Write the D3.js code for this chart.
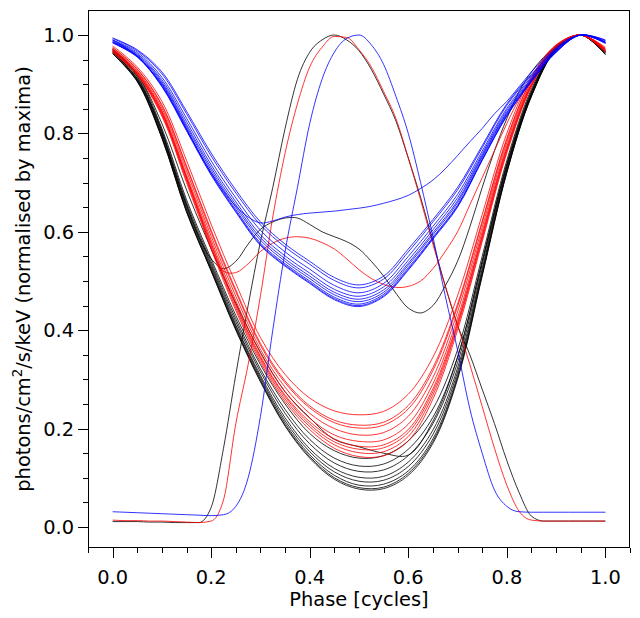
<!DOCTYPE html>
<html>
<head>
<meta charset="utf-8">
<script src="https://cdn.jsdelivr.net/npm/d3@7"></script>
<style>
  html, body { margin: 0; padding: 0; background: #fff; }
  svg { display: block; }
  text { font-family: "DejaVu Sans", sans-serif; fill: #000; }
</style>
</head>
<body>
<svg id="chart" width="640" height="618"></svg>
<script>
// ---------------- data ----------------
const PHASE = [0, 0.05, 0.1, 0.15, 0.2, 0.25, 0.3, 0.35, 0.4, 0.45, 0.5,
               0.55, 0.6, 0.65, 0.7, 0.75, 0.8, 0.85, 0.9, 0.95, 1.0];
const PHASE_FINE = [0, 0.025, 0.05, 0.075, 0.1, 0.125, 0.15, 0.175, 0.2, 0.225,
                    0.25, 0.275, 0.3, 0.325, 0.35, 0.375, 0.4, 0.425, 0.45, 0.475,
                    0.5, 0.525, 0.55, 0.575, 0.6, 0.625, 0.65, 0.675, 0.7, 0.725,
                    0.75, 0.775, 0.8, 0.825, 0.85, 0.875, 0.9, 0.925, 0.95, 0.975, 1.0];

const BLACK_DIPS = [
  [0.962, 0.905, 0.79, 0.64, 0.52, 0.40, 0.295, 0.205, 0.14, 0.097, 0.077, 0.078, 0.105, 0.17, 0.30, 0.51, 0.72, 0.875, 0.97, 1.0, 0.96],
  [0.962, 0.906, 0.791, 0.641, 0.521, 0.402, 0.297, 0.207, 0.143, 0.100, 0.080, 0.081, 0.109, 0.174, 0.303, 0.512, 0.721, 0.876, 0.97, 1.0, 0.961],
  [0.963, 0.907, 0.793, 0.643, 0.523, 0.404, 0.30, 0.211, 0.147, 0.105, 0.085, 0.087, 0.114, 0.179, 0.308, 0.515, 0.723, 0.877, 0.971, 1.0, 0.961],
  [0.965, 0.909, 0.795, 0.646, 0.526, 0.408, 0.304, 0.216, 0.153, 0.112, 0.093, 0.095, 0.123, 0.188, 0.315, 0.52, 0.726, 0.879, 0.971, 1.0, 0.963],
  [0.966, 0.911, 0.798, 0.65, 0.53, 0.411, 0.308, 0.222, 0.159, 0.119, 0.101, 0.103, 0.132, 0.197, 0.323, 0.525, 0.73, 0.881, 0.972, 1.0, 0.964],
  [0.968, 0.914, 0.801, 0.654, 0.534, 0.417, 0.315, 0.231, 0.169, 0.13, 0.113, 0.116, 0.145, 0.21, 0.334, 0.533, 0.734, 0.884, 0.973, 1.0, 0.966],
  [0.97, 0.916, 0.805, 0.659, 0.539, 0.423, 0.321, 0.239, 0.178, 0.14, 0.124, 0.128, 0.158, 0.223, 0.345, 0.54, 0.739, 0.886, 0.974, 1.0, 0.968],
  [0.972, 0.92, 0.81, 0.665, 0.545, 0.43, 0.33, 0.25, 0.19, 0.155, 0.14, 0.145, 0.175, 0.24, 0.36, 0.55, 0.745, 0.89, 0.975, 1.0, 0.97],
  [0.97, 0.92, 0.82, 0.685, 0.565, 0.455, 0.355, 0.275, 0.222, 0.178, 0.163, 0.150, 0.146, 0.215, 0.345, 0.54, 0.735, 0.88, 0.972, 1.0, 0.968]
];
const RED_DIPS = [
  [0.965, 0.918, 0.835, 0.70, 0.565, 0.44, 0.335, 0.255, 0.198, 0.16, 0.143, 0.145, 0.175, 0.26, 0.40, 0.58, 0.76, 0.895, 0.975, 1.0, 0.965],
  [0.966, 0.92, 0.838, 0.704, 0.57, 0.445, 0.34, 0.26, 0.204, 0.167, 0.151, 0.153, 0.184, 0.268, 0.407, 0.585, 0.764, 0.897, 0.975, 1.0, 0.966],
  [0.967, 0.921, 0.84, 0.708, 0.574, 0.45, 0.344, 0.265, 0.209, 0.173, 0.158, 0.161, 0.192, 0.275, 0.412, 0.59, 0.767, 0.898, 0.976, 1.0, 0.967],
  [0.968, 0.922, 0.842, 0.711, 0.577, 0.453, 0.347, 0.268, 0.214, 0.179, 0.164, 0.167, 0.198, 0.281, 0.417, 0.593, 0.77, 0.9, 0.976, 1.0, 0.967],
  [0.97, 0.924, 0.846, 0.716, 0.583, 0.46, 0.353, 0.275, 0.221, 0.187, 0.174, 0.177, 0.209, 0.291, 0.425, 0.6, 0.774, 0.902, 0.977, 1.0, 0.969],
  [0.972, 0.927, 0.851, 0.724, 0.591, 0.469, 0.361, 0.284, 0.231, 0.2, 0.187, 0.192, 0.225, 0.304, 0.437, 0.609, 0.781, 0.905, 0.978, 1.0, 0.97],
  [0.974, 0.93, 0.856, 0.731, 0.599, 0.478, 0.369, 0.293, 0.242, 0.212, 0.201, 0.207, 0.24, 0.318, 0.448, 0.618, 0.787, 0.909, 0.978, 1.0, 0.972],
  [0.975, 0.931, 0.858, 0.734, 0.603, 0.482, 0.373, 0.297, 0.246, 0.217, 0.207, 0.213, 0.247, 0.324, 0.453, 0.622, 0.79, 0.91, 0.979, 1.0, 0.973],
  [0.978, 0.935, 0.865, 0.745, 0.615, 0.495, 0.385, 0.31, 0.262, 0.236, 0.228, 0.235, 0.27, 0.345, 0.47, 0.635, 0.80, 0.915, 0.98, 1.0, 0.975]
];
const BLUE_DIPS = [
  [0.984, 0.955, 0.895, 0.805, 0.715, 0.64, 0.572, 0.53, 0.495, 0.462, 0.448, 0.468, 0.522, 0.585, 0.65, 0.745, 0.835, 0.905, 0.965, 1.0, 0.983],
  [0.984, 0.956, 0.896, 0.807, 0.717, 0.642, 0.574, 0.532, 0.497, 0.464, 0.45, 0.47, 0.524, 0.587, 0.652, 0.746, 0.836, 0.906, 0.965, 1.0, 0.983],
  [0.985, 0.957, 0.898, 0.809, 0.72, 0.645, 0.577, 0.535, 0.5, 0.467, 0.453, 0.473, 0.527, 0.589, 0.654, 0.748, 0.838, 0.907, 0.966, 1.0, 0.984],
  [0.986, 0.958, 0.902, 0.814, 0.725, 0.65, 0.583, 0.54, 0.505, 0.472, 0.458, 0.477, 0.532, 0.594, 0.659, 0.752, 0.841, 0.908, 0.967, 1.0, 0.985],
  [0.987, 0.96, 0.905, 0.818, 0.73, 0.655, 0.588, 0.545, 0.51, 0.477, 0.463, 0.482, 0.536, 0.598, 0.663, 0.755, 0.843, 0.91, 0.967, 1.0, 0.985],
  [0.989, 0.962, 0.909, 0.824, 0.736, 0.661, 0.594, 0.551, 0.516, 0.483, 0.469, 0.488, 0.542, 0.604, 0.669, 0.759, 0.847, 0.912, 0.968, 1.0, 0.986],
  [0.99, 0.965, 0.914, 0.831, 0.744, 0.669, 0.603, 0.559, 0.524, 0.491, 0.476, 0.495, 0.55, 0.611, 0.676, 0.764, 0.851, 0.915, 0.97, 1.0, 0.988],
  [0.993, 0.968, 0.921, 0.84, 0.754, 0.679, 0.614, 0.569, 0.534, 0.501, 0.486, 0.504, 0.559, 0.62, 0.685, 0.771, 0.857, 0.918, 0.971, 1.0, 0.989],
  [0.994, 0.97, 0.925, 0.845, 0.76, 0.685, 0.62, 0.575, 0.54, 0.507, 0.492, 0.51, 0.565, 0.625, 0.69, 0.775, 0.86, 0.92, 0.972, 1.0, 0.99]
];

const BLACK_PULSE = [0.011, 0.011, 0.011, 0.010, 0.010, 0.009, 0.009, 0.009, 0.04, 0.16,
  0.31, 0.45, 0.58, 0.69, 0.81, 0.91, 0.965, 0.99, 1.0, 0.99,
  0.968, 0.93, 0.88, 0.825, 0.75, 0.67, 0.58, 0.49, 0.41, 0.35,
  0.28, 0.21, 0.135, 0.07, 0.022, 0.012, 0.012, 0.012, 0.012, 0.012, 0.012];
const RED_PULSE = [0.014, 0.013, 0.013, 0.012, 0.012, 0.011, 0.010, 0.009, 0.012, 0.055,
  0.21, 0.33, 0.47, 0.63, 0.76, 0.86, 0.935, 0.975, 0.997, 0.995,
  0.97, 0.935, 0.885, 0.83, 0.75, 0.665, 0.575, 0.49, 0.41, 0.33,
  0.245, 0.16, 0.085, 0.032, 0.014, 0.012, 0.012, 0.012, 0.012, 0.012, 0.012];
const BLUE_PULSE = [0.031, 0.030, 0.029, 0.028, 0.027, 0.026, 0.025, 0.024, 0.023, 0.025,
  0.042, 0.10, 0.225, 0.40, 0.56, 0.69, 0.82, 0.91, 0.965, 0.993,
  1.0, 0.98, 0.94, 0.875, 0.80, 0.70, 0.59, 0.47, 0.36, 0.24,
  0.15, 0.075, 0.042, 0.031, 0.030, 0.030, 0.030, 0.030, 0.030, 0.030, 0.030];

const BLACK_BUMP = [0.965, 0.94, 0.91, 0.865, 0.805, 0.725, 0.655, 0.59, 0.545, 0.525,
  0.54, 0.575, 0.605, 0.62, 0.628, 0.628, 0.615, 0.60, 0.59, 0.58,
  0.565, 0.54, 0.51, 0.475, 0.445, 0.435, 0.45, 0.49, 0.54, 0.61,
  0.69, 0.765, 0.83, 0.885, 0.925, 0.955, 0.978, 0.994, 1.0, 0.99, 0.965];
const RED_BUMP = [0.97, 0.95, 0.925, 0.89, 0.845, 0.78, 0.71, 0.64, 0.565, 0.52,
  0.517, 0.535, 0.56, 0.577, 0.587, 0.59, 0.587, 0.578, 0.565, 0.545,
  0.523, 0.505, 0.493, 0.487, 0.489, 0.5, 0.525, 0.56, 0.6, 0.655,
  0.71, 0.765, 0.82, 0.87, 0.91, 0.945, 0.972, 0.99, 1.0, 0.99, 0.97];
const BLUE_BUMP = [0.99, 0.975, 0.957, 0.93, 0.9, 0.857, 0.81, 0.762, 0.72, 0.683,
  0.652, 0.63, 0.618, 0.622, 0.63, 0.635, 0.638, 0.64, 0.642, 0.645,
  0.648, 0.652, 0.658, 0.665, 0.674, 0.688, 0.705, 0.728, 0.755, 0.783,
  0.81, 0.84, 0.865, 0.895, 0.925, 0.952, 0.975, 0.992, 1.0, 0.995, 0.985];

const X_TICKS = [0, 0.2, 0.4, 0.6, 0.8, 1.0];
const Y_TICKS = [0, 0.2, 0.4, 0.6, 0.8, 1.0];
const X_LABEL = "Phase [cycles]";

// ---------------- drawing ----------------
const svg = d3.select("#chart");
const L = 88, R = 630, T = 10, B = 548;
const FS = 19.4;
const x = d3.scaleLinear().domain([-0.05, 1.05]).range([L, R]);
const y = d3.scaleLinear().domain([-0.0427, 1.0508]).range([B, T]);

const series = [];
BLACK_DIPS.forEach(v => series.push({ph: PHASE, v, c: "#000", smooth: true}));
series.push({ph: PHASE_FINE, v: BLACK_BUMP, c: "#000", smooth: true});
series.push({ph: PHASE_FINE, v: BLACK_PULSE, c: "#000", smooth: false});
RED_DIPS.forEach(v => series.push({ph: PHASE, v, c: "#ff0000", smooth: true}));
series.push({ph: PHASE_FINE, v: RED_BUMP, c: "#ff0000", smooth: true});
series.push({ph: PHASE_FINE, v: RED_PULSE, c: "#ff0000", smooth: false});
BLUE_DIPS.forEach(v => series.push({ph: PHASE, v, c: "#0000ff", smooth: true}));
series.push({ph: PHASE_FINE, v: BLUE_BUMP, c: "#0000ff", smooth: true});
series.push({ph: PHASE_FINE, v: BLUE_PULSE, c: "#0000ff", smooth: false});

svg.append("defs").append("clipPath").attr("id", "clip")
  .append("rect").attr("x", L).attr("y", T).attr("width", R - L).attr("height", B - T);

const lineSmooth = d3.line()
  .x(d => x(d[0])).y(d => y(d[1]))
  .curve(d3.curveCatmullRom.alpha(0.5));
const lineMono = d3.line()
  .x(d => x(d[0])).y(d => y(d[1]))
  .curve(d3.curveMonotoneX);

svg.append("g").attr("clip-path", "url(#clip)")
  .selectAll("path").data(series).join("path")
  .attr("d", s => (s.smooth ? lineSmooth : lineMono)(s.ph.map((p, i) => [p, s.v[i]])))
  .attr("fill", "none")
  .attr("stroke", s => s.c)
  .attr("stroke-width", 0.8);

// frame
svg.append("rect")
  .attr("x", L + 0.5).attr("y", T + 0.5)
  .attr("width", R - L - 1).attr("height", B - T - 1)
  .attr("fill", "none").attr("stroke", "#000").attr("stroke-width", 1);

// x axis
const xMinor = d3.range(-0.05, 1.0501, 0.05);
const gx = svg.append("g");
gx.selectAll("line.minor").data(xMinor).join("line")
  .attr("x1", d => Math.round(x(d)) + 0.5).attr("x2", d => Math.round(x(d)) + 0.5)
  .attr("y1", B).attr("y2", B + 5).attr("stroke", "#000");
gx.selectAll("line.major").data(X_TICKS).join("line")
  .attr("x1", d => Math.round(x(d)) + 0.5).attr("x2", d => Math.round(x(d)) + 0.5)
  .attr("y1", B).attr("y2", B + 10).attr("stroke", "#000");
gx.selectAll("text").data(X_TICKS).join("text")
  .attr("x", d => x(d)).attr("y", B + 36)
  .attr("text-anchor", "middle").attr("font-size", FS)
  .text(d => d.toFixed(1));
svg.append("text").attr("x", (L + R) / 2).attr("y", 606)
  .attr("text-anchor", "middle").attr("font-size", FS).text(X_LABEL);

// y axis
const yMinor = d3.range(0, 1.0001, 0.05);
const gy = svg.append("g");
gy.selectAll("line.minor").data(yMinor).join("line")
  .attr("y1", d => Math.round(y(d)) + 0.5).attr("y2", d => Math.round(y(d)) + 0.5)
  .attr("x1", L - 5).attr("x2", L).attr("stroke", "#000");
gy.selectAll("line.major").data(Y_TICKS).join("line")
  .attr("y1", d => Math.round(y(d)) + 0.5).attr("y2", d => Math.round(y(d)) + 0.5)
  .attr("x1", L - 10).attr("x2", L).attr("stroke", "#000");
gy.selectAll("text").data(Y_TICKS).join("text")
  .attr("x", L - 14).attr("y", d => y(d))
  .attr("dy", "0.36em")
  .attr("text-anchor", "end").attr("font-size", FS)
  .text(d => d.toFixed(1));

const yl = svg.append("text")
  .attr("transform", `translate(30,${(T + B) / 2}) rotate(-90)`)
  .attr("text-anchor", "middle").attr("font-size", FS);
yl.append("tspan").text("photons/cm");
yl.append("tspan").attr("font-size", 13.5).attr("dy", -8).text("2");
yl.append("tspan").attr("dy", 8).text("/s/keV (normalised by maxima)");
</script>
</body>
</html>
